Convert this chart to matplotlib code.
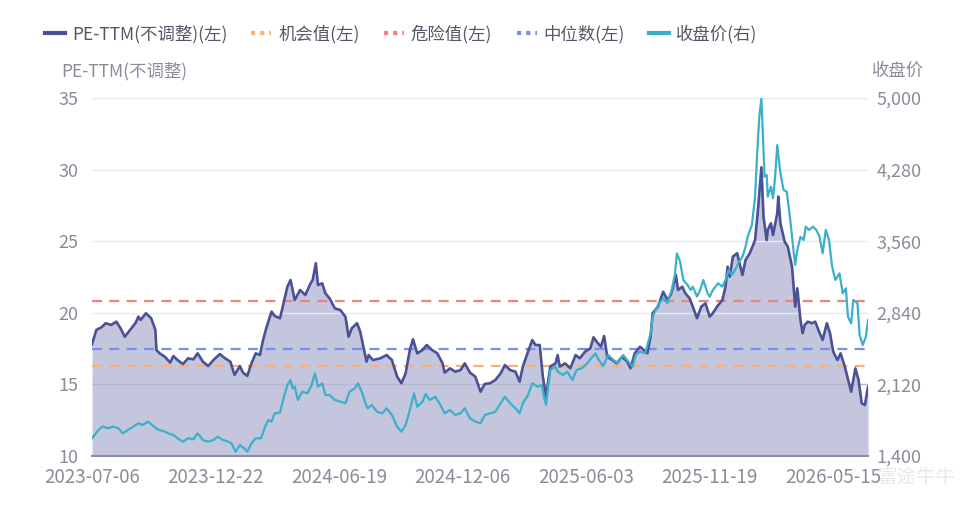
import matplotlib
matplotlib.use('Agg')
import matplotlib.pyplot as plt
from matplotlib.lines import Line2D
from matplotlib.ticker import FuncFormatter

plt.rcParams['font.family'] = ['Noto Sans CJK SC', 'DejaVu Sans']

# trading-day index / value pairs
pe_day = [0,4,9,13,18,23,27,31,36,41,44,46,51,56,60,61,64,69,74,77,81,86,91,96,100,105,110,115,121,126,131,135,140,143,147,151,155,159,162,165,170,173,178,181,185,188,192,197,202,207,209,212,214,218,221,225,230,235,240,243,246,251,254,257,260,262,266,273,279,284,289,293,297,301,304,308,313,317,322,327,332,334,339,344,349,353,358,363,368,372,377,382,387,391,396,401,405,408,413,417,420,424,427,430,434,439,441,443,448,453,458,462,467,472,475,478,482,485,488,493,497,502,507,510,514,519,526,529,531,536,541,545,548,550,553,555,559,562,566,569,573,577,581,585,588,592,597,600,602,604,607,611,616,619,623,628,631,634,636,639,640,643,645,649,650,652,656,659,663,665,666,668,671,673,675,678,682,685,688,692,696,699,702,706,709,713,719,723,726,729,732,735]
pe_val = [17.8,18.8,18.99,19.27,19.15,19.38,18.92,18.33,18.8,19.27,19.73,19.5,19.97,19.62,18.8,17.4,17.17,16.93,16.52,16.98,16.7,16.42,16.82,16.75,17.17,16.59,16.28,16.70,17.12,16.82,16.59,15.66,16.28,15.82,15.59,16.47,17.17,17.05,18.1,18.92,20.08,19.78,19.62,20.54,21.82,22.29,20.89,21.59,21.24,22.06,22.29,23.46,21.94,22.06,21.36,21.01,20.31,20.2,19.73,18.33,18.92,19.27,18.68,17.63,16.59,17.05,16.70,16.82,17.05,16.70,15.54,15.08,15.77,17.40,18.15,17.17,17.4,17.75,17.4,17.17,16.47,15.82,16.12,15.89,16.0,16.47,15.82,15.54,14.49,15.03,15.08,15.31,15.77,16.35,16.0,15.89,15.19,16.24,17.29,18.1,17.75,17.75,15.54,14.14,16.24,16.47,17.05,16.24,16.47,16.12,17.05,16.82,17.29,17.52,18.29,17.98,17.63,18.38,16.93,16.70,16.47,16.93,16.59,16.12,17.17,17.63,17.17,18.33,19.97,20.43,21.47,20.89,21.24,21.71,22.64,21.59,21.82,21.36,21.01,20.43,19.62,20.43,20.66,19.73,19.97,20.43,20.89,21.82,23.22,22.52,23.92,24.16,22.64,23.69,24.16,25.08,27.41,30.16,26.71,25.08,25.78,26.25,25.43,26.95,28.11,26.25,24.97,24.62,23.22,21.36,20.43,21.71,19.50,18.57,19.15,19.38,19.27,19.38,18.8,18.1,19.27,18.57,17.29,16.70,17.17,16.24,14.49,16.12,15.31,13.68,13.56,14.84]

price_day = [0,6,10,15,20,25,29,34,39,44,48,53,58,63,67,72,77,81,86,91,96,100,105,110,115,119,124,129,132,136,140,144,147,151,155,160,164,167,170,173,178,181,185,188,190,192,195,199,204,208,211,214,218,221,225,230,235,240,244,249,252,256,259,261,265,270,275,279,284,289,293,297,301,305,308,313,316,320,325,330,334,339,344,349,353,358,363,368,372,377,382,387,391,396,401,405,408,413,417,422,426,428,430,434,439,441,446,450,455,459,464,469,474,477,479,484,489,494,498,503,508,512,515,519,524,529,531,536,541,545,549,552,554,557,560,564,567,569,573,576,579,583,585,588,593,597,600,603,606,609,612,616,619,621,625,628,630,632,634,636,637,639,640,643,645,647,649,652,655,658,661,664,666,668,671,674,676,679,683,686,689,692,695,698,701,704,708,711,714,716,719,721,725,727,730,733,735]
price_val = [1578,1661,1695,1679,1695,1679,1628,1661,1695,1729,1712,1745,1702,1661,1654,1628,1611,1578,1544,1578,1568,1628,1561,1544,1561,1594,1561,1544,1528,1443,1511,1477,1443,1528,1578,1578,1695,1762,1745,1829,1836,1963,2114,2164,2081,2097,1963,2047,2030,2114,2232,2097,2131,2013,2013,1963,1946,1930,2047,2081,2131,2030,1930,1880,1913,1845,1829,1880,1812,1695,1644,1712,1863,2030,1896,1946,2023,1963,1996,1913,1829,1863,1812,1829,1880,1779,1745,1729,1812,1829,1845,1930,1996,1930,1880,1829,1930,2013,2131,2097,2114,1996,1913,2265,2298,2248,2215,2248,2164,2265,2282,2332,2399,2433,2382,2305,2416,2365,2332,2416,2348,2298,2416,2449,2433,2634,2801,2918,2986,2936,3069,3220,3438,3354,3170,3120,3069,3103,3002,3069,3170,3036,3002,3069,3137,3103,3170,3270,3220,3270,3338,3404,3505,3605,3723,4008,4444,4812,4997,4477,4209,4226,4008,4108,3991,4209,4527,4243,4075,4058,3806,3505,3321,3472,3605,3572,3706,3673,3706,3673,3605,3438,3673,3572,3304,3170,3237,3036,3086,2801,2734,2969,2936,2617,2516,2600,2767]

chance_val = 16.3   # 机会值
danger_val = 20.8   # 危险值
median_val = 17.5   # 中位数

tick_days = [0, 117, 234, 351, 468, 585, 702]
tick_labels = ['2023-07-06', '2023-12-22', '2024-06-19', '2024-12-06',
               '2025-06-03', '2025-11-19', '2026-05-15']
pe_ticks = [10, 15, 20, 25, 30, 35]
price_ticks = [1400, 2120, 2840, 3560, 4280, 5000]

c_pe = '#4a5194'
c_fill = '#c3c6dd'
c_price = '#3cb0c8'
c_chance = '#f7b27a'
c_danger = '#f2827a'
c_median = '#7b8cf5'
c_text = '#8a8c99'

fig = plt.figure(figsize=(9.75, 5.15), dpi=100)
ax = fig.add_axes([0.0944, 0.1146, 0.7959, 0.6951])
ax2 = ax.twinx()

ax.fill_between(pe_day, pe_val, 10, color=c_fill, lw=0, zorder=1)
for t in pe_ticks[1:]:
    ax.axhline(t, color='#b4b8d0' if t == 15 else '#e8eaf2', lw=1, zorder=1.5)
ax.plot(pe_day, pe_val, color=c_pe, lw=1.9, zorder=4)
for v, c in [(danger_val, c_danger), (median_val, c_median), (chance_val, c_chance)]:
    ax.axhline(v, color=c, lw=1.6, dashes=(4.5, 3.3), zorder=3)

ax2.plot(price_day, price_val, color=c_price, lw=1.6)

ax.set_xlim(0, 735)
ax.set_ylim(10, 35)
ax2.set_ylim(1400, 5000)
ax.set_yticks(pe_ticks)
ax2.set_yticks(price_ticks)
ax2.yaxis.set_major_formatter(FuncFormatter(lambda v, p: f'{int(v):,}'))
ax.set_xticks(tick_days)
ax.set_xticklabels(tick_labels)

for a in (ax, ax2):
    for s in ['top', 'left', 'right', 'bottom']:
        a.spines[s].set_visible(False)
    a.tick_params(length=0, labelsize=13, labelcolor=c_text)
ax.spines['bottom'].set_visible(True)
ax.spines['bottom'].set_color('#8a8ea8')
ax.spines['bottom'].set_linewidth(1.5)
ax.spines['bottom'].set_zorder(5)
ax.tick_params(axis='y', pad=10)
ax.tick_params(axis='x', pad=8, labelsize=13.5)
ax2.tick_params(axis='y', pad=6)

fig.text(0.063, 0.862, 'PE-TTM(不调整)', color=c_text, fontsize=12.5, ha='left', va='center')
fig.text(0.948, 0.862, '收盘价', color=c_text, fontsize=12.5, ha='right', va='center')

handles = [
    Line2D([], [], color=c_pe, lw=3),
    Line2D([], [], color=c_chance, lw=3, dashes=(1, 1.2)),
    Line2D([], [], color=c_danger, lw=3, dashes=(1, 1.2)),
    Line2D([], [], color=c_median, lw=3, dashes=(1, 1.2)),
    Line2D([], [], color=c_price, lw=3),
]
labels = ['PE-TTM(不调整)(左)', '机会值(左)', '危险值(左)', '中位数(左)', '收盘价(右)']
leg = fig.legend(handles, labels, loc='center left', bbox_to_anchor=(0.046, 0.934),
                 ncol=5, frameon=False, fontsize=12.5, handlelength=1.15,
                 handletextpad=0.4, columnspacing=1.4, borderpad=0, borderaxespad=0)
for t in leg.get_texts():
    t.set_color('#555766')

# faint watermark at bottom right
fig.text(0.98, 0.072, '富途牛牛', color='#e6e8ec', fontsize=14, ha='right', va='center')

fig.savefig('out.png', dpi=100)
